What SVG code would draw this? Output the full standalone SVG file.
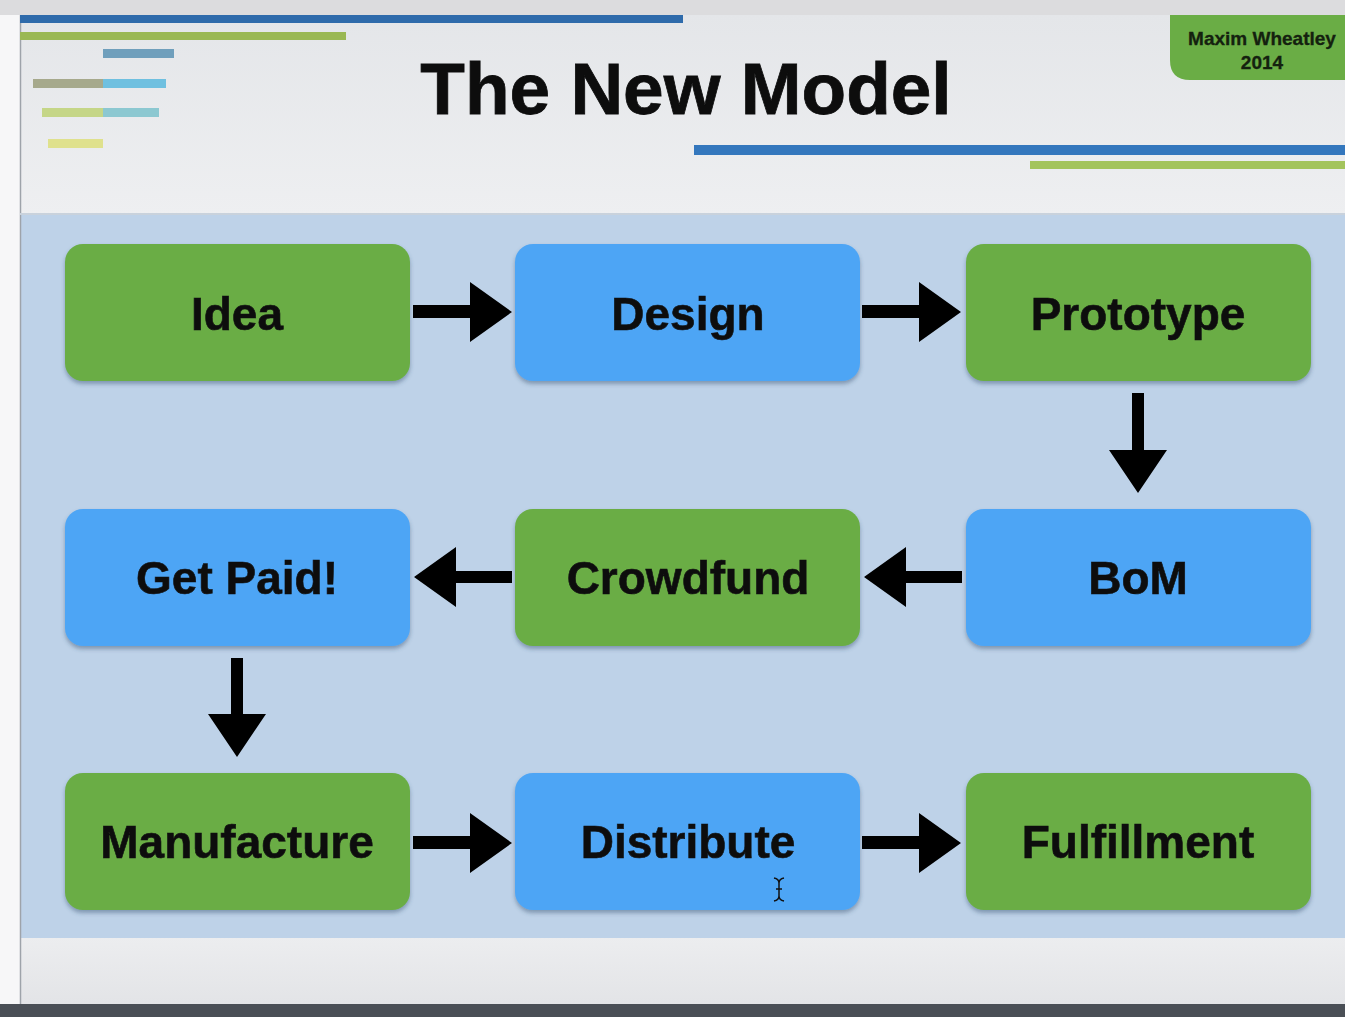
<svg xmlns="http://www.w3.org/2000/svg" width="1345" height="1017" viewBox="0 0 1345 1017">
<defs>
<style>
.g{fill:#6aad45}
.b{fill:#4ea5f5}
.lbl{font-family:"Liberation Sans",Arial,sans-serif;font-weight:bold;font-size:46px;fill:#111;text-anchor:middle;stroke:#111;stroke-width:0.6}
.ar{fill:#000}
.tag{font-family:"Liberation Sans",Arial,sans-serif;font-weight:bold;font-size:19px;fill:#14210f;text-anchor:middle;stroke:#14210f;stroke-width:0.3}
</style>
<linearGradient id="hdr" x1="0" y1="0" x2="0" y2="1">
<stop offset="0" stop-color="#e4e6e9"/>
<stop offset="1" stop-color="#eeeff1"/>
</linearGradient>
<linearGradient id="ftr" x1="0" y1="0" x2="0" y2="1">
<stop offset="0" stop-color="#ecedef"/>
<stop offset="1" stop-color="#e3e4e7"/>
</linearGradient>
<filter id="sh" x="-5%" y="-5%" width="110%" height="120%">
<feDropShadow dx="0" dy="3" stdDeviation="2" flood-color="#33506e" flood-opacity="0.45"/>
</filter>
</defs>
<rect x="0" y="0" width="1345" height="1017" fill="#f7f7f8"/>
<rect x="0" y="0" width="1345" height="15" fill="#dcdcde"/>
<rect x="20" y="15" width="1325" height="200" fill="url(#hdr)"/>
<rect x="20" y="214" width="1325" height="724" fill="#bed2e8"/>
<rect x="20" y="938" width="1325" height="66" fill="url(#ftr)"/>
<rect x="0" y="1004" width="1345" height="13" fill="#4a4f56"/>
<line x1="20.5" y1="15" x2="20.5" y2="1004" stroke="#9ea3aa" stroke-width="1.5"/>
<line x1="20" y1="214" x2="1345" y2="214" stroke="#c9d2dc" stroke-width="2"/>
<g id="decor">
<rect x="20" y="15" width="663" height="8" fill="#2f6bab"/>
<rect x="20" y="32" width="326" height="8" fill="#9ab853"/>
<rect x="103" y="49" width="71" height="9" fill="#6f9fbc"/>
<rect x="33" y="79" width="70" height="9" fill="#a6a98c"/>
<rect x="103" y="79" width="63" height="9" fill="#6fc0e0"/>
<rect x="42" y="108" width="61" height="9" fill="#c5d687"/>
<rect x="103" y="108" width="56" height="9" fill="#8cc8d1"/>
<rect x="48" y="139" width="55" height="9" fill="#dfe18d"/>
<rect x="694" y="145" width="651" height="10" fill="#3477bd"/>
<rect x="1030" y="161" width="315" height="8" fill="#a3c45c"/>
<path d="M1170 15 H1345 V80 H1190 Q1170 80 1170 60 Z" fill="#6aad45"/>
<text class="tag" x="1262" y="45">Maxim Wheatley</text>
<text class="tag" x="1262" y="69">2014</text>
<text x="686" y="114" font-family="Liberation Sans,Arial,sans-serif" font-weight="bold" font-size="73" fill="#0d0d0d" stroke="#0d0d0d" stroke-width="0.8" text-anchor="middle">The New Model</text>
</g>
<g id="n-idea" filter="url(#sh)"><rect class="g" x="65" y="244" width="345" height="137" rx="18"/><text class="lbl" x="237" y="330">Idea</text></g>
<g id="n-design" filter="url(#sh)"><rect class="b" x="515" y="244" width="345" height="137" rx="18"/><text class="lbl" x="688" y="330">Design</text></g>
<g id="n-prototype" filter="url(#sh)"><rect class="g" x="966" y="244" width="345" height="137" rx="18"/><text class="lbl" x="1138" y="330">Prototype</text></g>
<g id="n-getpaid" filter="url(#sh)"><rect class="b" x="65" y="509" width="345" height="137" rx="18"/><text class="lbl" x="237" y="594">Get Paid!</text></g>
<g id="n-crowdfund" filter="url(#sh)"><rect class="g" x="515" y="509" width="345" height="137" rx="18"/><text class="lbl" x="688" y="594">Crowdfund</text></g>
<g id="n-bom" filter="url(#sh)"><rect class="b" x="966" y="509" width="345" height="137" rx="18"/><text class="lbl" x="1138" y="594">BoM</text></g>
<g id="n-manufacture" filter="url(#sh)"><rect class="g" x="65" y="773" width="345" height="137" rx="18"/><text class="lbl" x="237" y="858">Manufacture</text></g>
<g id="n-distribute" filter="url(#sh)"><rect class="b" x="515" y="773" width="345" height="137" rx="18"/><text class="lbl" x="688" y="858">Distribute</text></g>
<g id="n-fulfillment" filter="url(#sh)"><rect class="g" x="966" y="773" width="345" height="137" rx="18"/><text class="lbl" x="1138" y="858">Fulfillment</text></g>
<g id="connectors" class="ar">
<path d="M413 305 H470 V282 L512 312 L470 342 V318 H413 Z"/>
<path d="M862 305 H919 V282 L961 312 L919 342 V318 H862 Z"/>
<path d="M1132 393 V450 H1109 L1138 493 L1167 450 H1144 V393 Z"/>
<path d="M962 571 H906 V547 L864 577 L906 607 V583 H962 Z"/>
<path d="M512 571 H456 V547 L414 577 L456 607 V583 H512 Z"/>
<path d="M231 658 V714 H208 L237 757 L266 714 H243 V658 Z"/>
<path d="M413 836 H470 V813 L512 843 L470 873 V849 H413 Z"/>
<path d="M862 836 H919 V813 L961 843 L919 873 V849 H862 Z"/>
</g>
<path d="M774 878 Q779 879 779 883 Q779 879 784 878 M779 883 V896 M774 901 Q779 900 779 896 Q779 900 784 901 M776 889 H782" fill="none" stroke="#111" stroke-width="1.5"/>
</svg>
